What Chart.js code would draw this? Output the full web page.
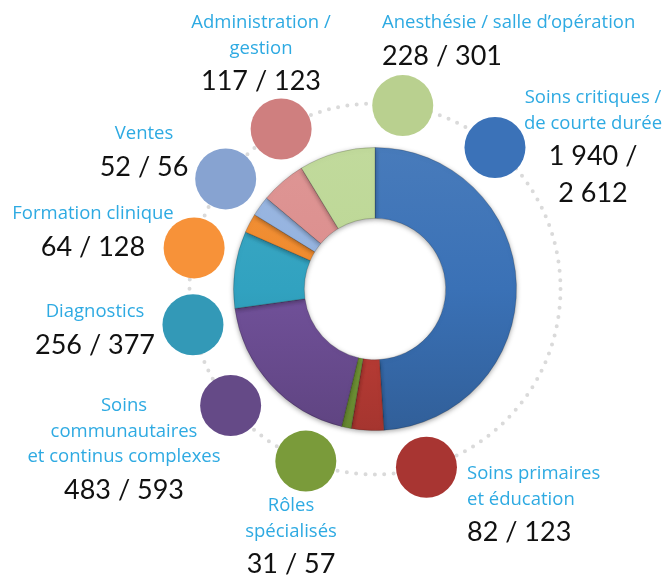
<!DOCTYPE html>
<html>
<head>
<meta charset="utf-8">
<script src="https://cdn.jsdelivr.net/npm/chart.js"></script>
<style>
  body { margin: 0; background: #fff; }
</style>
</head>
<body>
<canvas id="myChart" width="666" height="575"></canvas>
<script>
// categories, clockwise from 12 o'clock
const categories = [
  'Soins critiques / de courte durée',
  'Soins primaires et éducation',
  'Rôles spécialisés',
  'Soins communautaires et continus complexes',
  'Diagnostics',
  'Formation clinique',
  'Ventes',
  'Administration / gestion',
  'Anesthésie / salle d’opération'
];
const nameLines = [
  ['Soins critiques /', 'de courte durée'],
  ['Soins primaires', 'et éducation'],
  ['Rôles', 'spécialisés'],
  ['Soins', 'communautaires', 'et continus complexes'],
  ['Diagnostics'],
  ['Formation clinique'],
  ['Ventes'],
  ['Administration /', 'gestion'],
  ['Anesthésie / salle d’opération']
];
const firstValues = [1940, 82, 31, 483, 256, 64, 52, 117, 228];
const secondValues = [2612, 123, 57, 593, 377, 128, 56, 123, 301];
// slice sizes (percent of ring)
const sliceShares = [49, 3.7, 1.1, 19, 8.8, 2.2, 2.3, 5.2, 8.7];

const sliceColors = ['#3a71b6','#c43f38','#7aa23a','#71519a','#31a2c0','#f08a2c','#93b2df','#dc8e8d','#bcd795'];
const bubbleColors = ['#3b72b8','#a83532','#7a9b3a','#654a87','#3399b7','#f79239','#87a3d1','#cf7f7f','#b9d08f'];

// where the round markers and the texts sit
const bubbleAngles = [40.3, 163.9, 201.9, 231.1, 258.9, 282.8, 306.4, 329.6, 8.6];
const labelSpots = [
  {x: 593, y: 98,  align: 'center', split: true},
  {x: 467, y: 474, align: 'left'},
  {x: 291, y: 506, align: 'center'},
  {x: 124, y: 406, align: 'center'},
  {x: 95,  y: 312, align: 'center'},
  {x: 93,  y: 214, align: 'center'},
  {x: 144, y: 134, align: 'center'},
  {x: 261, y: 23,  align: 'center'},
  {x: 382, y: 23,  align: 'left'}
];

function fmt(n) {
  return String(n).replace(/\B(?=(\d{3})+(?!\d))/g, ' ');
}

function shade(hex, f) {
  const n = parseInt(hex.slice(1), 16);
  let rgb = [n >> 16, (n >> 8) & 255, n & 255];
  rgb = rgb.map(v => Math.round(f > 0 ? v + (255 - v) * f : v * (1 + f)));
  return 'rgb(' + rgb.join(',') + ')';
}

function sliceFill(context) {
  const area = context.chart.chartArea;
  if (!area) return sliceColors[context.dataIndex];
  const base = sliceColors[context.dataIndex];
  const g = context.chart.ctx.createLinearGradient(0, area.top, 0, area.bottom);
  g.addColorStop(0, shade(base, 0.07));
  g.addColorStop(0.5, base);
  g.addColorStop(1, shade(base, -0.16));
  return g;
}

const decor = {
  id: 'decor',
  beforeDatasetsDraw(chart) {
    const c = chart.ctx;
    c.save();
    c.shadowColor = 'rgba(0,0,0,0.35)';
    c.shadowBlur = 5;
    c.shadowOffsetY = 1.5;
  },
  afterDatasetsDraw(chart) {
    chart.ctx.restore();
  },
  afterDraw(chart) {
    const c = chart.ctx;
    const arc = chart.getDatasetMeta(0).data[0];
    const cx = arc.x, cy = arc.y;
    const ringR = arc.outerRadius + 44;

    // dotted ring
    c.save();
    c.strokeStyle = '#dadada';
    c.lineWidth = 4;
    c.lineCap = 'round';
    c.setLineDash([0, 9.4]);
    c.beginPath();
    c.arc(cx, cy, ringR, 0, Math.PI * 2);
    c.stroke();
    c.restore();

    // bubbles
    bubbleAngles.forEach((a, i) => {
      const t = (a - 90) * Math.PI / 180;
      c.beginPath();
      c.arc(cx + ringR * Math.cos(t), cy + ringR * Math.sin(t), 30.5, 0, Math.PI * 2);
      c.fillStyle = bubbleColors[i];
      c.fill();
    });

    // texts
    c.textBaseline = 'middle';
    labelSpots.forEach((s, i) => {
      c.textAlign = s.align;
      let y = s.y;
      c.font = '18.5px "Open Sans"';
      c.fillStyle = '#2eaae2';
      nameLines[i].forEach((ln, k) => {
        if (k > 0) y += 25.5;
        c.fillText(ln, s.x, y);
      });
      y += 33;
      c.font = '27px Lato';
      c.fillStyle = '#111';
      if (s.split) {
        c.fillText(fmt(firstValues[i]) + ' /', s.x, y);
        c.fillText(fmt(secondValues[i]), s.x, y + 37);
      } else {
        c.fillText(fmt(firstValues[i]) + ' / ' + fmt(secondValues[i]), s.x, y);
      }
    });
  }
};

var ctx = document.getElementById("myChart").getContext("2d");

const chart = new Chart(ctx, {
  type: 'doughnut',
  data: {
    labels: categories,
    datasets: [{
      data: sliceShares,
      backgroundColor: sliceFill,
      borderColor: 'rgba(0,0,0,0.18)',
      borderWidth: 1
    }]
  },
  options: {
    responsive: false,
    animation: false,
    cutout: '50%',
    layout: { padding: { left: 233, right: 149, top: 147, bottom: 144 } },
    plugins: {
      legend: { display: false },
      tooltip: { enabled: false }
    }
  },
  plugins: [decor]
});
</script>
</body>
</html>
